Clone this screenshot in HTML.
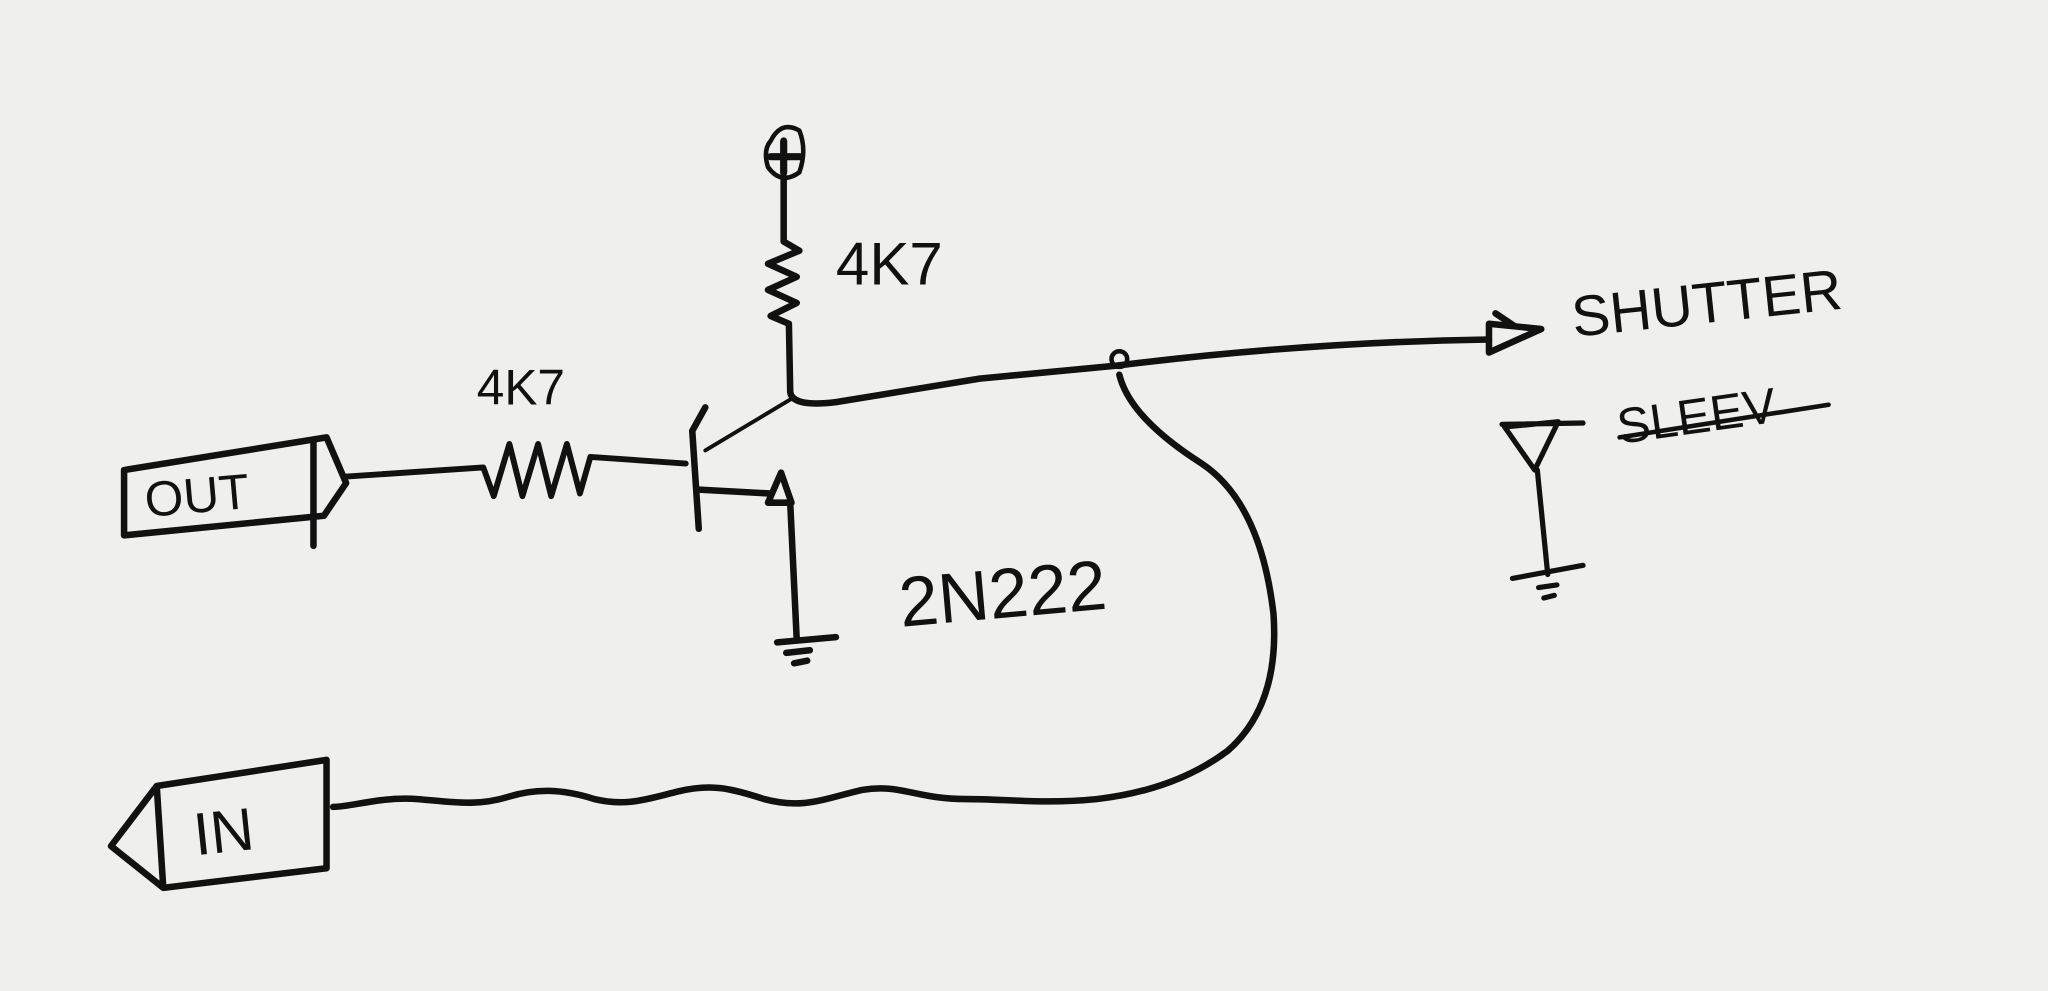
<!DOCTYPE html>
<html><head><meta charset="utf-8"><style>
html,body{margin:0;padding:0;background:#efefed;}
svg{display:block;}
text{font-family:"Liberation Sans",sans-serif;fill:#111;}
</style></head><body>
<svg width="2048" height="991" viewBox="0 0 1568 759" preserveAspectRatio="none" xmlns="http://www.w3.org/2000/svg">
<rect width="1568" height="759" fill="#efefed"/>
<g fill="none" stroke="#111" stroke-width="5" stroke-linecap="round" stroke-linejoin="round">
<path d="M590,108 Q598,92 612,100 Q618,115 612,132 Q598,142 588,128 Q584,115 590,108Z" stroke-width="3.5"/>
<path d="M600,108 L600,132 M590,120 L612,120" stroke-width="5.5"/>
<path d="M600,135 L600,185 L612,192 L588,202 L610,212 L588,222 L610,232 L590,242 L604,248 L605,300"/>
<path d="M605,300 Q606,312 640,308 L750,290 L855,280 Q1000,262 1140,260"/>
<path d="M1140,248 L1180,252 L1140,270 Z M1145,240 L1160,250"/>
<circle cx="857" cy="275" r="6" stroke-width="3.5"/>
<path d="M857,287 Q865,320 920,355 Q965,385 975,470 Q980,540 940,575 Q900,605 840,612 C800,616 770,612 740,612 C700,612 690,600 660,605 C630,612 615,620 585,612 C560,604 545,600 520,606 C495,612 480,618 455,612 C430,604 410,604 390,610 C365,618 345,614 320,612 C290,610 270,618 255,618"/>
<path d="M85,648 L120,602 L250,582 L250,665 L125,680 Z M120,602 L125,680"/>
<path d="M95,360 L250,335 L265,370 L248,395 L95,410 Z M240,338 L240,418"/>
<path d="M265,365 L370,358 L378,380 L390,340 L400,380 L412,340 L422,380 L434,340 L444,378 L452,350 L525,355" stroke-width="4.5"/>
<path d="M540,312 L530,330 L535,405" stroke-width="5"/>
<path d="M540,345 L605,306" stroke-width="3"/>
<path d="M535,375 L590,378"/>
<path d="M588,385 L598,362 L606,385 Z"/>
<path d="M605,385 L610,490 M595,492 L640,488 M602,500 L620,498 M608,508 L618,506"/>
<path d="M1150,325 L1212,324 M1152,327 L1193,323 L1175,360 Z M1177,360 L1185,440 M1158,443 L1212,433 M1178,450 L1192,448 M1182,458 L1190,456" stroke-width="4"/>
<path d="M1240,335 L1400,310" stroke-width="3.5"/>
</g>
<text x="640" y="218" font-size="46">4K7</text>
<text x="365" y="310" font-size="38">4K7</text>
<text x="112" y="396" font-size="38" transform="rotate(-5 112 396)">OUT</text>
<text x="150" y="655" font-size="46" transform="rotate(-6 150 655)">IN</text>
<text x="690" y="480" font-size="54" transform="rotate(-5 690 480)">2N222</text>
<text x="1205" y="258" font-size="44" transform="rotate(-6 1205 258)">SHUTTER</text>
<text x="1240" y="340" font-size="38" transform="rotate(-8 1240 340)">SLEEV</text>
</svg>
</body></html>
